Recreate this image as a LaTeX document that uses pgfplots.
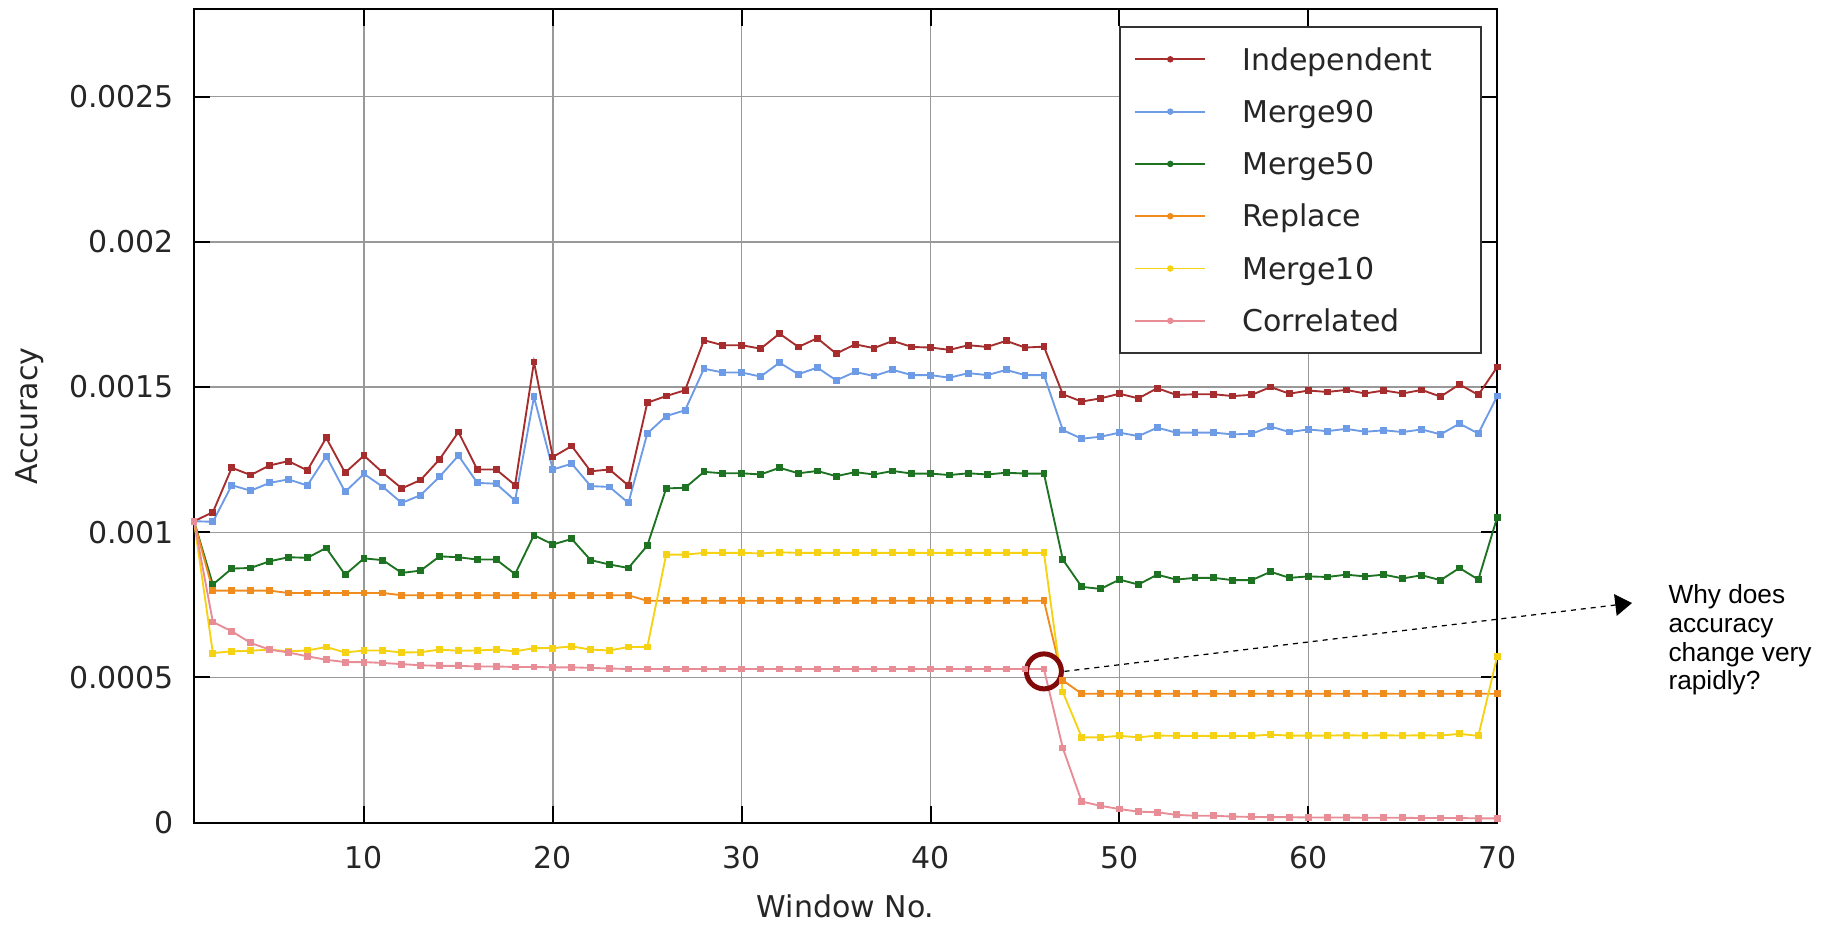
\documentclass[border=0pt]{standalone}
\usepackage{fontspec}
\setmainfont{DejaVu Sans}
\newfontfamily\annfont{Liberation Sans}
\usepackage{pgfplots}
\usepackage{pgfplotstable}
\pgfplotsset{compat=1.18}
\usetikzlibrary{arrows.meta}
\definecolor{cInd}{RGB}{165,45,45}
\definecolor{cMa}{RGB}{110,155,230}
\definecolor{cMb}{RGB}{30,115,35}
\definecolor{cRep}{RGB}{240,140,30}
\definecolor{cMc}{RGB}{245,210,20}
\definecolor{cCor}{RGB}{232,140,150}
\definecolor{cCirc}{RGB}{130,10,10}
\pgfplotstableread{
x ind m90 m50 rep m10 cor
1 0.001038 0.001038 0.001038 0.001038 0.001038 0.001038
2 0.001069 0.001036 0.000820 0.000799 0.000584 0.000691
3 0.001222 0.001162 0.000875 0.000799 0.000590 0.000659
4 0.001197 0.001143 0.000877 0.000799 0.000592 0.000619
5 0.001230 0.001170 0.000900 0.000799 0.000596 0.000596
6 0.001245 0.001182 0.000914 0.000791 0.000590 0.000586
7 0.001213 0.001161 0.000912 0.000791 0.000593 0.000573
8 0.001325 0.001262 0.000946 0.000791 0.000605 0.000561
9 0.001205 0.001139 0.000854 0.000791 0.000586 0.000553
10 0.001264 0.001201 0.000910 0.000791 0.000593 0.000553
11 0.001205 0.001156 0.000904 0.000791 0.000593 0.000550
12 0.001151 0.001101 0.000860 0.000783 0.000586 0.000546
13 0.001180 0.001128 0.000868 0.000783 0.000587 0.000542
14 0.001251 0.001191 0.000917 0.000783 0.000596 0.000540
15 0.001345 0.001264 0.000914 0.000783 0.000592 0.000540
16 0.001216 0.001170 0.000906 0.000783 0.000593 0.000538
17 0.001216 0.001167 0.000906 0.000783 0.000596 0.000538
18 0.001162 0.001109 0.000856 0.000783 0.000590 0.000536
19 0.001586 0.001466 0.000990 0.000783 0.000601 0.000536
20 0.001259 0.001216 0.000958 0.000783 0.000601 0.000535
21 0.001297 0.001236 0.000977 0.000783 0.000607 0.000535
22 0.001210 0.001159 0.000904 0.000783 0.000596 0.000533
23 0.001216 0.001156 0.000889 0.000783 0.000593 0.000531
24 0.001161 0.001101 0.000877 0.000783 0.000605 0.000529
25 0.001446 0.001340 0.000954 0.000764 0.000605 0.000529
26 0.001469 0.001400 0.001151 0.000764 0.000923 0.000529
27 0.001489 0.001420 0.001153 0.000764 0.000923 0.000529
28 0.001661 0.001563 0.001208 0.000764 0.000929 0.000529
29 0.001644 0.001550 0.001203 0.000764 0.000929 0.000529
30 0.001644 0.001550 0.001203 0.000764 0.000929 0.000529
31 0.001632 0.001536 0.001199 0.000764 0.000927 0.000529
32 0.001684 0.001584 0.001222 0.000764 0.000931 0.000529
33 0.001638 0.001544 0.001203 0.000764 0.000929 0.000529
34 0.001668 0.001567 0.001211 0.000764 0.000929 0.000529
35 0.001615 0.001523 0.001193 0.000764 0.000929 0.000529
36 0.001647 0.001552 0.001207 0.000764 0.000929 0.000529
37 0.001634 0.001538 0.001199 0.000764 0.000929 0.000529
38 0.001659 0.001559 0.001211 0.000764 0.000929 0.000529
39 0.001638 0.001541 0.001202 0.000764 0.000929 0.000529
40 0.001636 0.001541 0.001202 0.000764 0.000929 0.000529
41 0.001628 0.001532 0.001197 0.000764 0.000929 0.000529
42 0.001644 0.001548 0.001203 0.000764 0.000929 0.000529
43 0.001638 0.001541 0.001199 0.000764 0.000929 0.000529
44 0.001659 0.001559 0.001205 0.000764 0.000929 0.000529
45 0.001636 0.001541 0.001202 0.000764 0.000929 0.000529
46 0.001639 0.001541 0.001202 0.000764 0.000929 0.000529
47 0.001475 0.001352 0.000906 0.000490 0.000450 0.000257
48 0.001450 0.001322 0.000812 0.000444 0.000294 0.000073
49 0.001461 0.001329 0.000805 0.000444 0.000294 0.000058
50 0.001477 0.001343 0.000837 0.000444 0.000299 0.000047
51 0.001461 0.001331 0.000820 0.000444 0.000294 0.000038
52 0.001496 0.001360 0.000854 0.000444 0.000300 0.000036
53 0.001473 0.001343 0.000837 0.000444 0.000299 0.000027
54 0.001475 0.001343 0.000843 0.000444 0.000299 0.000024
55 0.001475 0.001343 0.000843 0.000444 0.000299 0.000024
56 0.001469 0.001337 0.000835 0.000444 0.000299 0.000021
57 0.001473 0.001339 0.000835 0.000444 0.000299 0.000020
58 0.001500 0.001364 0.000864 0.000444 0.000303 0.000019
59 0.001477 0.001345 0.000843 0.000444 0.000300 0.000019
60 0.001488 0.001354 0.000848 0.000444 0.000300 0.000018
61 0.001483 0.001348 0.000846 0.000444 0.000300 0.000018
62 0.001490 0.001356 0.000854 0.000444 0.000301 0.000018
63 0.001478 0.001346 0.000848 0.000444 0.000300 0.000017
64 0.001488 0.001351 0.000854 0.000444 0.000301 0.000017
65 0.001478 0.001345 0.000841 0.000444 0.000300 0.000017
66 0.001490 0.001354 0.000852 0.000444 0.000301 0.000016
67 0.001467 0.001337 0.000835 0.000444 0.000300 0.000016
68 0.001509 0.001374 0.000877 0.000444 0.000306 0.000016
69 0.001473 0.001340 0.000837 0.000444 0.000299 0.000015
70 0.001569 0.001469 0.001052 0.000444 0.000573 0.000015
}\datatable
\begin{document}
\begin{tikzpicture}
\path[use as bounding box] (0pt,0pt) rectangle (733.2pt,370pt);
\begin{axis}[
  at={(77.6pt,40.92pt)}, anchor=south west,
  scale only axis, width=521.3pt, height=325.3pt,
  xmin=1, xmax=70, ymin=0, ymax=0.0028,
  xtick={10,20,30,40,50,60,70},
  ytick={0,0.0005,0.001,0.0015,0.002,0.0025},
  scaled y ticks=false,
  yticklabel style={/pgf/number format/fixed,/pgf/number format/precision=4},
  /pgf/number format/assume math mode=true,
  tick label style={font=\fontsize{12}{14.4}\selectfont, text=black!85},
  xticklabel style={inner sep=0pt, anchor=north, yshift=-9.3pt},
  yticklabel style={inner sep=0pt, anchor=east, xshift=-7.8pt},
  grid=major,
  major grid style={black!40, line width=0.6pt},
  tick align=inside,
  major tick length=6.5pt,
  every tick/.style={black, line width=0.8pt},
  axis line style={black, line width=0.8pt},
  xlabel={Window No.},
  ylabel={Accuracy},
  every axis x label/.style={at={(axis description cs:0.5,0)}, anchor=center, yshift=-33.3pt, font=\fontsize{12}{14.4}\selectfont, text=black!85},
  every axis y label/.style={at={(axis description cs:0,0.5)}, xshift=-65.8pt, rotate=90, anchor=center, font=\fontsize{12}{14.4}\selectfont, text=black!85},
  every axis plot/.append style={line width=0.75pt, mark=square*, mark size=1pt},
  legend cell align=left,
  legend image code/.code={\draw[mark repeat=2,mark phase=2,#1,mark size=0.9pt,mark=*] plot coordinates {(0pt,0pt)(14pt,0pt)(28pt,0pt)};},
  legend style={at={(0.9881,0.9796)}, anchor=north east, font=\fontsize{12}{14.4}\selectfont,
    text=black!85, nodes={inner sep=3.12pt}, inner xsep=5.9pt, inner ysep=4pt,
    /tikz/column sep=11.3pt, /tikz/row sep=3.1pt, draw=black!80, line width=0.8pt},
]
\addplot[cInd, mark options={fill=cInd}] table[x=x,y=ind] {\datatable};
\addlegendentry{\strut Independent\hspace*{10.3pt}}
\addplot[cMa, mark options={fill=cMa}] table[x=x,y=m90] {\datatable};
\addlegendentry{\strut Merge90}
\addplot[cMb, mark options={fill=cMb}] table[x=x,y=m50] {\datatable};
\addlegendentry{\strut Merge50}
\addplot[cRep, mark options={fill=cRep}] table[x=x,y=rep] {\datatable};
\addlegendentry{\strut Replace}
\addplot[cMc, mark options={fill=cMc}] table[x=x,y=m10] {\datatable};
\addlegendentry{\strut Merge10}
\addplot[cCor, mark options={fill=cCor}] table[x=x,y=cor] {\datatable};
\addlegendentry{\strut Correlated}
\draw[cCirc, line width=2pt] (axis cs:46.0,0.000521) circle[radius=7pt];
\end{axis}
\draw[black, line width=0.5pt, dash pattern=on 2pt off 2pt, -{Triangle[length=6.7pt,width=8.7pt]}] (425.8pt,101.45pt) -- (652.8pt,128.8pt);
\node[anchor=north west, align=left, inner sep=0pt, font=\annfont\fontsize{10.5}{11.5}\selectfont] at (667.2pt,136.4pt) {Why does\\accuracy\\change very\\rapidly?};
\end{tikzpicture}
\end{document}
